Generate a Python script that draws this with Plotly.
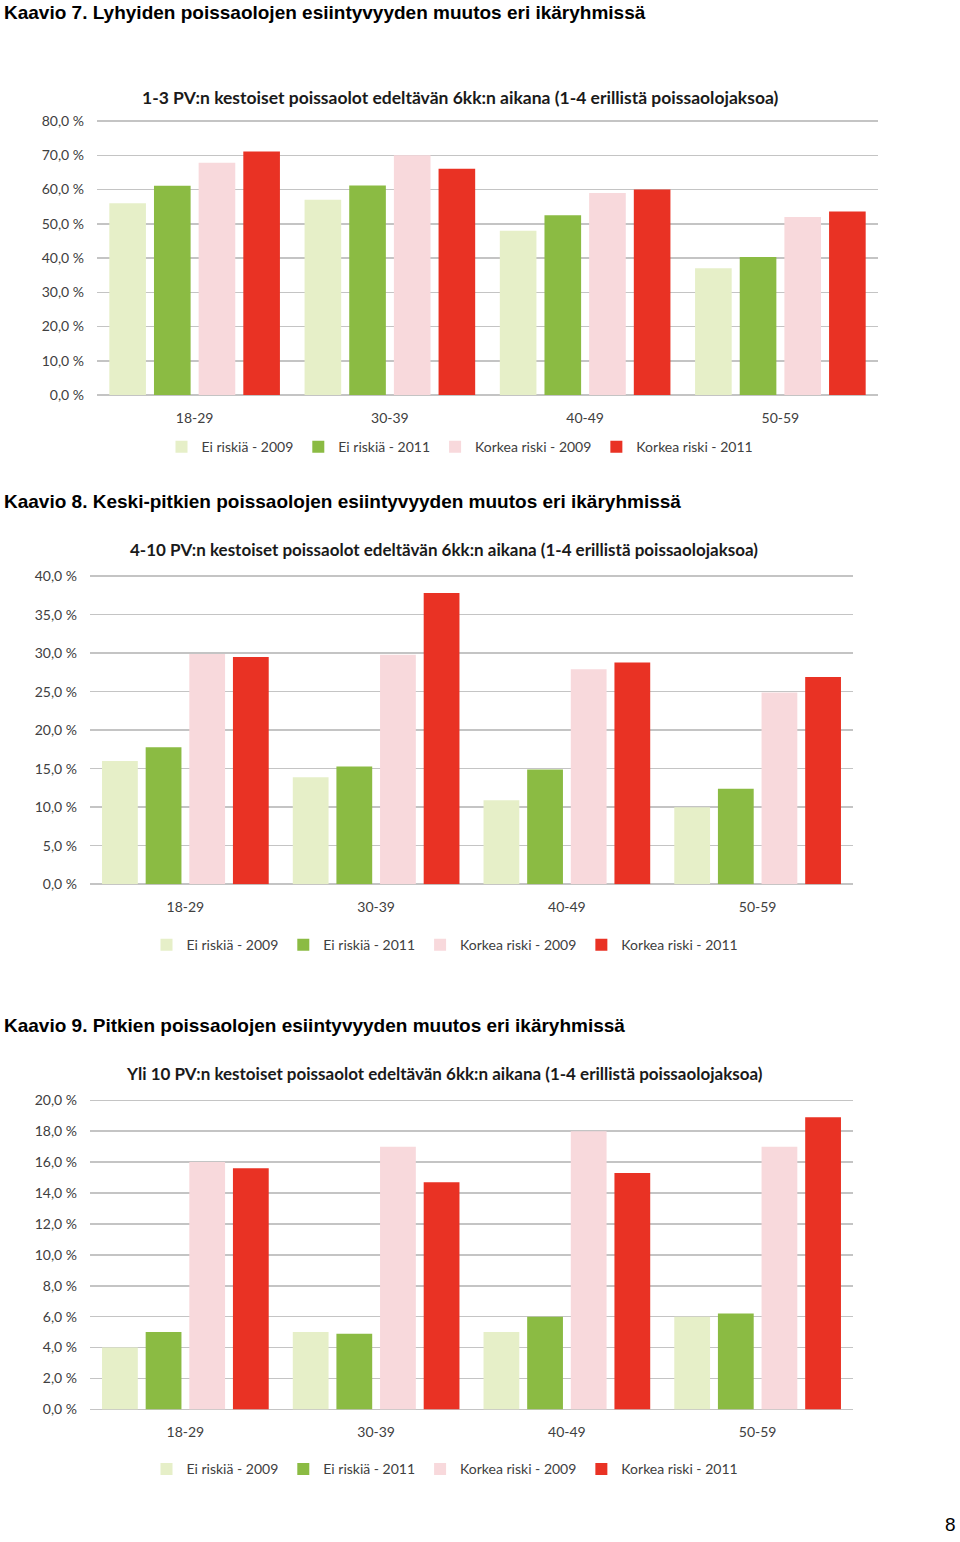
import plotly.graph_objects as go

# ---------------- data ----------------
categories = ["18-29", "30-39", "40-49", "50-59"]
series_names = ["Ei riskiä - 2009", "Ei riskiä - 2011", "Korkea riski - 2009", "Korkea riski - 2011"]
series_colors = ["#E6EFC8", "#8BBB43", "#F8D9DC", "#E93224"]

# Kaavio 7 (1-3 PV)
k7_ei_2009 = [56.0, 57.0, 48.0, 37.0]
k7_ei_2011 = [61.1, 61.2, 52.5, 40.3]
k7_kr_2009 = [67.8, 70.0, 59.0, 52.0]
k7_kr_2011 = [71.1, 66.1, 60.0, 53.6]

# Kaavio 8 (4-10 PV)
k8_ei_2009 = [16.0, 13.9, 10.9, 10.0]
k8_ei_2011 = [17.8, 15.3, 14.9, 12.4]
k8_kr_2009 = [29.9, 29.8, 27.9, 24.9]
k8_kr_2011 = [29.5, 37.8, 28.8, 26.9]

# Kaavio 9 (yli 10 PV)
k9_ei_2009 = [4.0, 5.0, 5.0, 6.0]
k9_ei_2011 = [5.0, 4.9, 6.0, 6.2]
k9_kr_2009 = [16.0, 17.0, 18.0, 17.0]
k9_kr_2011 = [15.6, 14.7, 15.3, 18.9]

k7_tickvals = [0, 10, 20, 30, 40, 50, 60, 70, 80]
k7_ticktext = ["0,0 %", "10,0 %", "20,0 %", "30,0 %", "40,0 %", "50,0 %", "60,0 %", "70,0 %", "80,0 %"]
k8_tickvals = [0, 5, 10, 15, 20, 25, 30, 35, 40]
k8_ticktext = ["0,0 %", "5,0 %", "10,0 %", "15,0 %", "20,0 %", "25,0 %", "30,0 %", "35,0 %", "40,0 %"]
k9_tickvals = [0, 2, 4, 6, 8, 10, 12, 14, 16, 18, 20]
k9_ticktext = ["0,0 %", "2,0 %", "4,0 %", "6,0 %", "8,0 %", "10,0 %", "12,0 %", "14,0 %", "16,0 %", "18,0 %", "20,0 %"]

headings = [
    "Kaavio 7. Lyhyiden poissaolojen esiintyvyyden muutos eri ikäryhmissä",
    "Kaavio 8. Keski-pitkien poissaolojen esiintyvyyden muutos eri ikäryhmissä",
    "Kaavio 9. Pitkien poissaolojen esiintyvyyden muutos eri ikäryhmissä",
]
chart_titles = [
    "1-3 PV:n kestoiset poissaolot edeltävän 6kk:n aikana (1-4 erillistä poissaolojaksoa)",
    "4-10 PV:n kestoiset poissaolot edeltävän 6kk:n aikana (1-4 erillistä poissaolojaksoa)",
    "Yli 10 PV:n kestoiset poissaolot edeltävän 6kk:n aikana (1-4 erillistä poissaolojaksoa)",
]
page_number = "8"

# ---------------- layout helpers ----------------
W, H = 960, 1542


def fy(t):
    # target pixel in the photographed page -> figure pixel (measured calibration)
    return (t - 7.0) / 0.99


def py(t):
    return 1 - fy(t) / H


def px(p):
    return p / W


charts = [
    dict(data=[k7_ei_2009, k7_ei_2011, k7_kr_2009, k7_kr_2011], tv=k7_tickvals, tt=k7_ticktext,
         rng=[0, 80.5], xd=[px(97), px(878)], yd=[py(395), py(121 - 0.5 * 274 / 80)],
         head_y=12, title_x=460, title_y=97, title_size=17.5, leg_x=460, leg_y=447),
    dict(data=[k8_ei_2009, k8_ei_2011, k8_kr_2009, k8_kr_2011], tv=k8_tickvals, tt=k8_ticktext,
         rng=[0, 40.25], xd=[px(90), px(853)], yd=[py(884), py(576 - 0.25 * 308 / 40)],
         head_y=501, title_x=444, title_y=549, title_size=17, leg_x=445, leg_y=945),
    dict(data=[k9_ei_2009, k9_ei_2011, k9_kr_2009, k9_kr_2011], tv=k9_tickvals, tt=k9_ticktext,
         rng=[0, 20.13], xd=[px(90), px(853)], yd=[py(1409), py(1100 - 0.13 * 309 / 20)],
         head_y=1025, title_x=444, title_y=1073, title_size=17, leg_x=445, leg_y=1469),
]

fig = go.Figure()
layout = dict(
    width=W, height=H,
    margin=dict(l=0, r=0, t=0, b=0),
    paper_bgcolor="white", plot_bgcolor="white",
    barmode="group", bargap=0.085, bargroupgap=0.18,
    font=dict(family="Lato, Open Sans, sans-serif", color="#404040", size=14),
    annotations=[],
)

axis_font = dict(family="Lato, Open Sans, sans-serif", size=14, color="#404040")

for i, c in enumerate(charts):
    n = "" if i == 0 else str(i + 1)
    xa, ya = "x" + n, "y" + n
    legname = "legend" + n
    for s, (name, col) in enumerate(zip(series_names, series_colors)):
        fig.add_trace(go.Bar(
            x=categories, y=c["data"][s], name=name,
            marker=dict(color=col, line=dict(width=0)),
            xaxis=xa, yaxis=ya, legend=legname, hoverinfo="skip",
        ))
    layout["xaxis" + n] = dict(
        domain=c["xd"], anchor=ya, type="category",
        showgrid=False, showline=False, zeroline=False,
        ticks="", tickfont=axis_font, ticklabelstandoff=13,
    )
    layout["yaxis" + n] = dict(
        domain=c["yd"], anchor=xa, range=c["rng"],
        tickvals=c["tv"], ticktext=c["tt"],
        showgrid=True, gridcolor="#C4C4C4", gridwidth=1.5,
        zeroline=True, zerolinecolor="#C4C4C4", zerolinewidth=1.5,
        showline=False, ticks="", tickfont=axis_font, ticklabelstandoff=12,
    )
    layout[legname] = dict(
        orientation="h", x=px(c["leg_x"]), y=py(c["leg_y"]),
        xanchor="center", yanchor="middle",
        font=dict(family="Lato, Open Sans, sans-serif", size=14, color="#404040"),
        itemwidth=30, tracegroupgap=0, bgcolor="rgba(0,0,0,0)",
    )
    layout["annotations"].append(dict(
        text="<b>" + headings[i] + "</b>", xref="paper", yref="paper", x=px(2), y=py(c["head_y"]),
        xanchor="left", yanchor="middle", showarrow=False,
        font=dict(family="Liberation Sans, Arial, sans-serif", size=19, color="#000000"),
    ))
    layout["annotations"].append(dict(
        text="<b>" + chart_titles[i] + "</b>", xref="paper", yref="paper",
        x=px(c["title_x"]), y=py(c["title_y"]),
        xanchor="center", yanchor="middle", showarrow=False,
        font=dict(family="Lato, Open Sans, sans-serif", size=c["title_size"], color="#1a1a1a"),
    ))

layout["annotations"].append(dict(
    text=page_number, xref="paper", yref="paper", x=px(950), y=-3 / H,
    xanchor="center", yanchor="bottom", showarrow=False,
    font=dict(family="Liberation Sans, Arial, sans-serif", size=19, color="#000000"),
))

fig.update_layout(**layout)
fig.write_html(
    "out.html",
    config={"displayModeBar": False, "staticPlot": True},
    post_script=(
        "document.documentElement.style.margin='0';"
        "document.documentElement.style.overflow='hidden';"
        "document.body.style.margin='0';"
        "document.body.style.overflow='hidden';"
    ),
)
